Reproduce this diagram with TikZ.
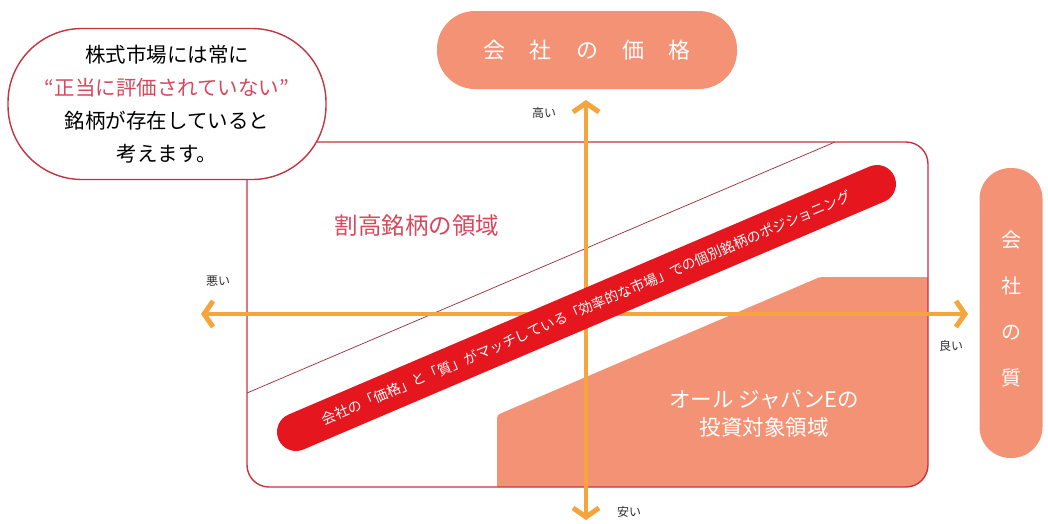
\documentclass[tikz,border=0pt]{standalone}
\usepackage{fontspec}
\setmainfont{Noto Sans CJK JP}
\usetikzlibrary{arrows.meta,calc}
\definecolor{salmon}{RGB}{243,146,116}
\definecolor{axisor}{RGB}{245,165,60}
\definecolor{framered}{RGB}{196,52,64}
\definecolor{barred}{RGB}{230,22,30}
\definecolor{pinkred}{RGB}{216,72,92}
\definecolor{labgray}{RGB}{45,45,45}
\tikzset{
  pill/.style={fill=salmon, draw=none, text=white},
  axisline/.style={draw=axisor, line width=4pt,
    arrows={Straight Barb[length=9pt,width=26pt,line width=5pt]-Straight Barb[length=9pt,width=26pt,line width=5pt]}},
  axlabel/.style={text=labgray, font=\fontsize{12}{14}\selectfont, inner sep=0pt},
  callout/.style={draw=framered, line width=1.4pt, fill=white},
}
\begin{document}
\begin{tikzpicture}[x=1pt,y=-1pt]
\useasboundingbox (0,0) rectangle (1048,523);
% main frame
\path[fill=white] (247,142) rectangle (928,487);
\begin{scope}
  \clip[rounded corners=22pt] (247,142) rectangle (928,487);
  \fill[salmon, rounded corners=3pt] (497,500) -- (497,415) -- (820,277) -- (940,277) -- (940,500) -- cycle;
  \coordinate (tl) at (247,393);
  \coordinate (tr) at (835,142);
  \draw[framered!80!black, line width=0.7pt] (tl) -- (tr);
\end{scope}
\draw[framered, line width=1.4pt, rounded corners=22pt] (247,142) rectangle (928,487);
% axes
\coordinate (atop) at (586,100);
\coordinate (abot) at (586,520);
\coordinate (aleft) at (201,314);
\coordinate (aright) at (968,314);
\draw[axisline] (abot) -- (atop);
\draw[axisline] (aleft) -- (aright);
% red bar
\coordinate (bl) at (296,432);
\coordinate (br) at (877,184);
\draw[barred, line width=38pt, line cap=round] (bl) -- (br);
\node[text=white, rotate=23.1, inner sep=0pt, font=\fontsize{14}{16}\selectfont] (bartext) at ($(bl)!0.5!(br)$) {会社の「価格」と「質」がマッチしている「効率的な市場」での個別銘柄のポジショニング};
% region texts
\node[text=pinkred, font=\fontsize{23.5}{28}\selectfont, inner sep=0pt] (overval) at (417,226) {割高銘柄の領域};
\node[text=white, font=\fontsize{21.5}{28}\selectfont, align=center, inner sep=0pt] (invest) at (764,414) {オール ジャパンEの\\投資対象領域};
% callout
\node[callout, rounded corners=74pt, minimum width=318pt, minimum height=151pt, align=center,
      font=\fontsize{20.5}{33}\selectfont] (call) at (167,104)
  {株式市場には常に\\\textcolor{pinkred}{“正当に評価されていない”}\\銘柄が存在していると\\考えます。};
% top pill
\node[pill, rounded corners=38pt, minimum width=300pt, minimum height=78pt,
      font=\fontsize{22}{26}\selectfont] (price) at (587,50)
  {会\hspace{1.1em}社\hspace{1.1em}の\hspace{1.1em}価\hspace{1.1em}格};
% right pill
\node[pill, rounded corners=31pt, minimum width=63pt, minimum height=290pt] (quality) at (1011,313) {};
\node[text=white, font=\fontsize{20}{46}\selectfont, align=center, inner sep=0pt] (qualitytext) at (1011,309) {会\\社\\の\\質};
% axis labels
\node[axlabel] (high) at (544,113) {高い};
\node[axlabel] (bad) at (218,281) {悪い};
\node[axlabel] (good) at (951,346) {良い};
\node[axlabel] (cheap) at (629,512) {安い};
\end{tikzpicture}
\end{document}
